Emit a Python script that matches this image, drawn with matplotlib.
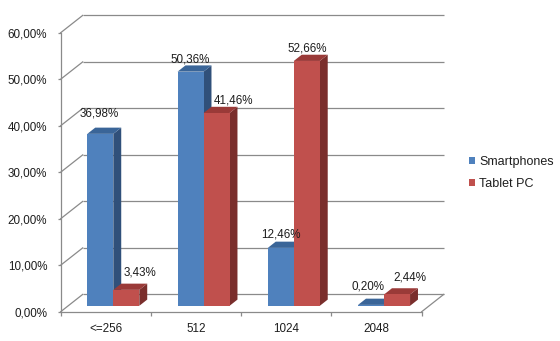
import matplotlib
matplotlib.use("Agg")
import matplotlib.pyplot as plt
from matplotlib.patches import Polygon, Patch

# ---- data -------------------------------------------------------------
categories = ["<=256", "512", "1024", "2048"]
smartphones = [36.98, 50.36, 12.46, 0.20]
tablet_pc = [3.43, 41.46, 52.66, 2.44]
series_names = ["Smartphones", "Tablet PC"]
y_ticks = [0, 10, 20, 30, 40, 50, 60]

# ---- style ------------------------------------------------------------
W, H, DPI = 560, 341, 100
plt.rcParams["font.family"] = ["Liberation Sans", "DejaVu Sans"]
FS = 8.4
FS_LEG = 9
TEXT = "#1e1e1e"
GRID = "#8a8a8a"
faces = {
    "Smartphones": ("#4F81BD", "#3A6598", "#30507A"),   # front, top, side
    "Tablet PC": ("#C0504D", "#9A3A38", "#7A2E2C"),
}
# label nudges in pixels (dx, dy) relative to the bar's front top centre
label_nudge = {
    "Smartphones": [(-1, 20), (-0.5, 12), (0, 13), (-3.5, 18)],
    "Tablet PC": [(13.5, 17), (17, 13), (0, 12), (12.5, 17)],
}

fig = plt.figure(figsize=(W / DPI, H / DPI), dpi=DPI, facecolor="white")
# axes spans the front plane of the 3-D box
left_px, right_px, bottom_px, top_px = 60.7, 421.7, 311.7, 32.7
ax = fig.add_axes([left_px / W, 1 - bottom_px / H,
                   (right_px - left_px) / W, (bottom_px - top_px) / H])
n = len(categories)
ax.set_xlim(-0.5, n - 0.5)
ax.set_ylim(y_ticks[0], y_ticks[-1])
ax.set_facecolor("none")

# depth of the box expressed in data units
px_per_x = (right_px - left_px) / n
px_per_y = (bottom_px - top_px) / (y_ticks[-1] - y_ticks[0])
DX = 22.0 / px_per_x
DY = 17.3 / px_per_y

def at_depth(x, y, d):
    return (x + d * DX, y + d * DY)

x_lo, x_hi = -0.5, n - 0.5
# back wall gridlines + side wall diagonals
for t in y_ticks:
    ax.plot([x_lo + DX, x_hi + DX], [t + DY, t + DY], color=GRID, lw=0.9,
            clip_on=False, zorder=1, solid_capstyle="butt")
    ax.plot([x_lo, x_lo + DX], [t, t + DY], color=GRID, lw=0.9,
            clip_on=False, zorder=1)
# right edge of the floor
ax.plot([x_hi, x_hi + DX], [0, DY], color=GRID, lw=0.9, clip_on=False, zorder=1)

# bars
bar_w = 0.288
d0, d1 = 0.34, 0.70
series = [("Smartphones", smartphones, -1), ("Tablet PC", tablet_pc, 0)]
for i in range(n):
    for name, vals, side in series:
        v = vals[i]
        x0 = i + side * bar_w
        x1 = x0 + bar_w
        front_c, top_c, side_c = faces[name]
        front = [at_depth(x0, 0, d0), at_depth(x1, 0, d0),
                 at_depth(x1, v, d0), at_depth(x0, v, d0)]
        top = [at_depth(x0, v, d0), at_depth(x1, v, d0),
               at_depth(x1, v, d1), at_depth(x0, v, d1)]
        rside = [at_depth(x1, 0, d0), at_depth(x1, 0, d1),
                 at_depth(x1, v, d1), at_depth(x1, v, d0)]
        for poly, c in ((rside, side_c), (top, top_c), (front, front_c)):
            ax.add_patch(Polygon(poly, closed=True, facecolor=c,
                                 edgecolor="none", clip_on=False, zorder=3))
        nx, ny = label_nudge[name][i]
        ax.annotate(f"{v:.2f}".replace(".", ",") + "%",
                    xy=at_depth((x0 + x1) / 2, v, d0),
                    xytext=(nx, ny), textcoords="offset pixels",
                    ha="center", va="center", fontsize=FS, color=TEXT,
                    zorder=5, annotation_clip=False)

# axes frame: front vertical axis and front floor edge
for s in ("top", "right"):
    ax.spines[s].set_visible(False)
for s in ("left", "bottom"):
    ax.spines[s].set_color(GRID)
    ax.spines[s].set_linewidth(0.9)
    ax.spines[s].set_zorder(2)

ax.set_yticks(y_ticks)
ax.set_yticklabels([f"{t:.2f}".replace(".", ",") + "%" for t in y_ticks])
ax.tick_params(axis="y", direction="out", length=2.2, width=0.9, color=GRID,
               pad=7.5, labelsize=FS, labelcolor=TEXT)
ax.set_xticks(range(n))
ax.set_xticklabels(categories)
ax.set_xticks([k - 0.5 for k in range(n + 1)], minor=True)
ax.tick_params(axis="x", which="major", length=0, pad=8.0,
               labelsize=FS, labelcolor=TEXT)
ax.tick_params(axis="x", which="minor", direction="out", length=3,
               width=0.9, color=GRID)

handles = [Patch(facecolor=faces[s][0], edgecolor="none") for s in series_names]
fig.legend(handles, series_names, loc="upper left",
           bbox_to_anchor=(469 / W, 1 - 156.0 / H), frameon=False,
           handlelength=0.5, handleheight=0.5, handletextpad=0.3,
           labelspacing=0.8, borderpad=0, borderaxespad=0,
           fontsize=FS_LEG, labelcolor=TEXT)

fig.savefig("out.png", dpi=DPI, facecolor="white")
